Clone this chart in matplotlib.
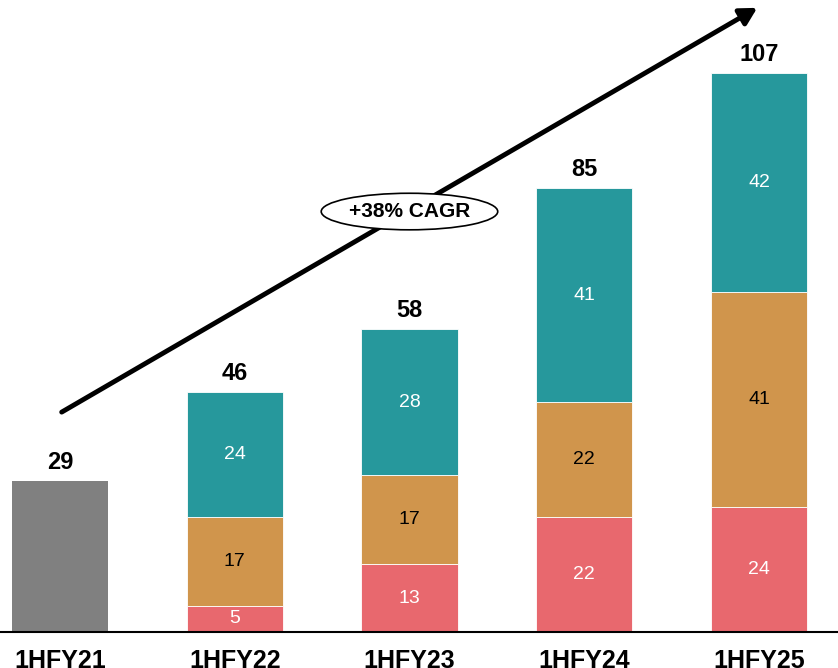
import matplotlib.pyplot as plt
from matplotlib.patches import Ellipse

plt.rcParams['font.family'] = ['Liberation Sans', 'DejaVu Sans']

periods = ['1HFY21', '1HFY22', '1HFY23', '1HFY24', '1HFY25']
totals = [29, 46, 58, 85, 107]
seg_red = [0, 5, 13, 22, 24]
seg_orange = [0, 17, 17, 22, 41]
seg_teal = [0, 24, 28, 41, 42]
first_total = 29
cagr_label = '+38% CAGR'

c_gray = '#808080'
c_red = '#E8686E'
c_orange = '#D0954C'
c_teal = '#26989C'

fig = plt.figure(figsize=(8.38, 6.68), dpi=100)
ax = fig.add_axes([0, 36 / 668, 1, 632 / 668])
ax.set_xlim(-0.343, 4.452)
ax.set_ylim(0, 121)

w = 0.55
x = list(range(len(periods)))

ax.bar(x[0], first_total, width=w, color=c_gray)
bottoms = [0] * len(x)
for vals, col, tcol in [(seg_red, c_red, 'white'),
                        (seg_orange, c_orange, 'black'),
                        (seg_teal, c_teal, 'white')]:
    for i in x[1:]:
        ax.bar(i, vals[i], width=w, bottom=bottoms[i], color=col,
               edgecolor='white', linewidth=0.6)
        ax.text(i, bottoms[i] + vals[i] / 2, str(vals[i]), ha='center',
                va='center', color=tcol, fontsize=14)
        bottoms[i] += vals[i]

for i in x:
    ax.text(i, totals[i] + 3.5, str(totals[i]), ha='center', va='center',
            fontsize=17, fontweight='bold')

# growth arrow
ax.annotate('', xy=(3.99, 119.5), xytext=(0.01, 42.1),
            arrowprops=dict(arrowstyle='-|>,head_length=1.0,head_width=0.55',
                            color='black', lw=3.5, shrinkA=0, shrinkB=0))
ax.add_patch(Ellipse((2.0, 80.5), 1.01, 7.0, facecolor='white',
                     edgecolor='black', lw=1.2, zorder=5))
ax.text(2.0, 80.5, cagr_label, ha='center', va='center', fontsize=15,
        fontweight='bold', zorder=6)

for s in ['top', 'right', 'left']:
    ax.spines[s].set_visible(False)
ax.spines['bottom'].set_linewidth(1.5)
ax.set_yticks([])
ax.set_xticks(x)
ax.set_xticklabels(periods, fontsize=18, fontweight='bold')
ax.tick_params(axis='x', length=0, pad=12)

fig.savefig('out.png', dpi=100)
